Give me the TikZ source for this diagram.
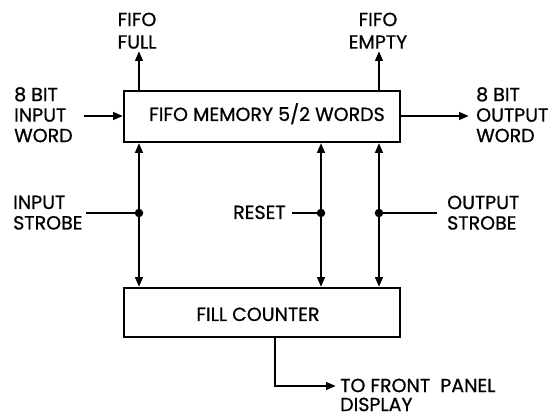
\documentclass[tikz,border=0pt]{standalone}
\usepackage{fontspec}
\setmainfont{Poppins}[FakeBold=0.8]
\usetikzlibrary{arrows.meta}
\tikzset{
  lbl/.style={inner sep=0pt, align=left, font=\fontsize{19}{20.5}\selectfont},
  lblc/.style={inner sep=0pt, align=center, font=\fontsize{19}{22.5}\selectfont},
  blk/.style={draw, line width=1.8pt, inner sep=0pt},
  blkt/.style={inner sep=0pt, font=\fontsize{19}{20}\selectfont, anchor=base},
  wire/.style={line width=2.6pt},
  arr/.style={wire, -{Triangle[length=10pt,width=7.5pt]}},
  dot/.style={circle, fill, inner sep=0pt, minimum size=8.5pt}
}
\begin{document}
\begin{tikzpicture}[x=1pt,y=-1pt]
\useasboundingbox (0,0) rectangle (549,419);
% blocks
\node[blk, minimum width=276pt, minimum height=51pt] (mem) at (262,116.5) {};
\node[blkt] (memt) at (267,121) {FIFO MEMORY 5/2 WORDS};
\node[blk, minimum width=276pt, minimum height=49pt] (fc) at (262,312.5) {};
\node[blkt] (fct) at (258,321) {FILL COUNTER};
% junction dots
\node[dot] (d1) at (139,213) {};
\node[dot] (d2) at (321,213) {};
\node[dot] (d3) at (379,213) {};
% free ends
\coordinate (fullend) at (139,51);
\coordinate (emptyend) at (379,51);
\coordinate (inw) at (84,116);
\coordinate (outw) at (469,116);
\coordinate (ins) at (86,213);
\coordinate (rst) at (292,213);
\coordinate (outs) at (437,213);
\coordinate (fcbend) at (275,386);
\coordinate (fcend) at (336,386);
% labels
\node[lblc, anchor=north] (lfull) at (137,12.5) {FIFO\\FULL};
\node[lblc, anchor=north] (lempty) at (378,12.5) {FIFO\\EMPTY};
\node[lbl, anchor=north west] (linw) at (14,87) {8 BIT\\INPUT\\WORD};
\node[lbl, anchor=north west] (loutw) at (476,87) {8 BIT\\OUTPUT\\WORD};
\node[lbl, anchor=north west] (lins) at (13,195.5) {INPUT\\STROBE};
\node[lbl, anchor=north west] (louts) at (447,195.5) {OUTPUT\\STROBE};
\node[lbl, anchor=base west] (lrst) at (233,219) {RESET};
\node[lbl, anchor=north west, font=\fontsize{19}{19}\selectfont] (lfp) at (340,378.5) {TO FRONT\ \ PANEL\\DISPLAY};
% connectors
\draw[arr] (mem.north -| d1) -- (fullend);
\draw[arr] (mem.north -| d3) -- (emptyend);
\draw[arr] (inw) -- (mem.west |- inw);
\draw[arr] (mem.east |- outw) -- (outw);
\draw[wire] (ins) -- (d1.center);
\draw[wire] (rst) -- (d2.center);
\draw[wire] (outs) -- (d3.center);
\foreach \d in {d1,d2,d3}{
  \draw[arr] (\d.center) -- (mem.south -| \d);
  \draw[arr] (\d.center) -- (fc.north -| \d);
}
\draw[arr] (fc.south -| fcbend) -- (fcbend) -- (fcend);
\end{tikzpicture}
\end{document}
